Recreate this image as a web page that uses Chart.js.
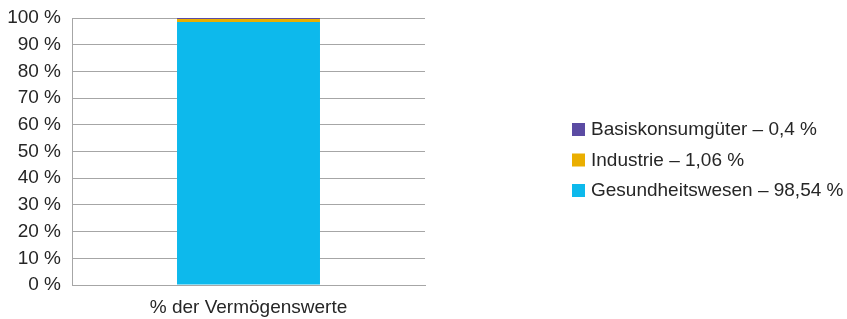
<!DOCTYPE html>
<html>
<head>
<meta charset="utf-8">
<script src="https://cdn.jsdelivr.net/npm/chart.js@4"></script>
<style>
  html, body { margin: 0; padding: 0; background: #fff; }
  #wrap { position: relative; width: 847px; height: 319px; }
</style>
</head>
<body>
<div id="wrap"><canvas id="chart"></canvas></div>
<script>
var categories = ['% der Vermögenswerte'];
var seriesNames = ['Gesundheitswesen', 'Industrie', 'Basiskonsumgüter'];
var seriesLegend = ['Gesundheitswesen – 98,54 %', 'Industrie – 1,06 %', 'Basiskonsumgüter – 0,4 %'];
var gesundheitswesen = [98.54];
var industrie = [1.06];
var basiskonsum = [0.4];
var yTicks = [0, 10, 20, 30, 40, 50, 60, 70, 80, 90, 100];

var colors = ['#0DB9EC', '#EAAE00', '#5B4BA3'];
var FONT = 'Liberation Sans, Arial, sans-serif';

// legend drawn on the canvas, top row = last dataset
var sideLegend = {
    id: 'sideLegend',
    afterDraw: function (chart) {
        var ctx = chart.ctx;
        var ds = chart.data.datasets;
        ctx.save();
        ctx.font = '19px ' + FONT;
        ctx.textBaseline = 'middle';
        for (var i = ds.length - 1, row = 0; i >= 0; i--, row++) {
            var y = 129 + row * 30.5;
            ctx.fillStyle = ds[i].backgroundColor;
            ctx.fillRect(572, y - 6, 13, 13);
            ctx.fillStyle = '#262626';
            ctx.fillText(ds[i].legendText, 591, y + 1);
        }
        ctx.restore();
    }
};

new Chart(document.getElementById('chart'), {
    type: 'bar',
    data: {
        labels: categories,
        datasets: [
            { label: seriesNames[0], legendText: seriesLegend[0], data: gesundheitswesen, backgroundColor: colors[0] },
            { label: seriesNames[1], legendText: seriesLegend[1], data: industrie, backgroundColor: colors[1] },
            { label: seriesNames[2], legendText: seriesLegend[2], data: basiskonsum, backgroundColor: colors[2] }
        ]
    },
    plugins: [sideLegend],
    options: {
        responsive: true,
        maintainAspectRatio: false,
        animation: false,
        layout: { padding: { left: 7, right: 422, top: 18, bottom: 0 } },
        datasets: { bar: { barPercentage: 0.405, categoryPercentage: 1 } },
        plugins: {
            legend: { display: false },
            tooltip: { enabled: false }
        },
        scales: {
            y: {
                stacked: true,
                min: 0,
                max: 100,
                afterBuildTicks: function (axis) {
                    axis.ticks = yTicks.map(function (v) { return { value: v }; });
                },
                afterFit: function (axis) {
                    axis.width = 65;
                    axis.paddingTop = 0;
                    axis.paddingBottom = 0;
                },
                ticks: {
                    font: { family: FONT, size: 19 },
                    color: '#262626',
                    padding: 11,
                    autoSkip: false,
                    callback: function (v) { return v + ' %'; }
                },
                grid: { color: '#A6A6A6', drawTicks: false, lineWidth: 1 },
                border: { display: true, color: '#A6A6A6' }
            },
            x: {
                stacked: true,
                afterFit: function (axis) { axis.height = 34; },
                ticks: {
                    font: { family: FONT, size: 19 },
                    color: '#262626',
                    padding: 11
                },
                grid: { display: false, drawTicks: false },
                border: { display: true, color: '#A6A6A6' }
            }
        }
    }
});
</script>
</body>
</html>
